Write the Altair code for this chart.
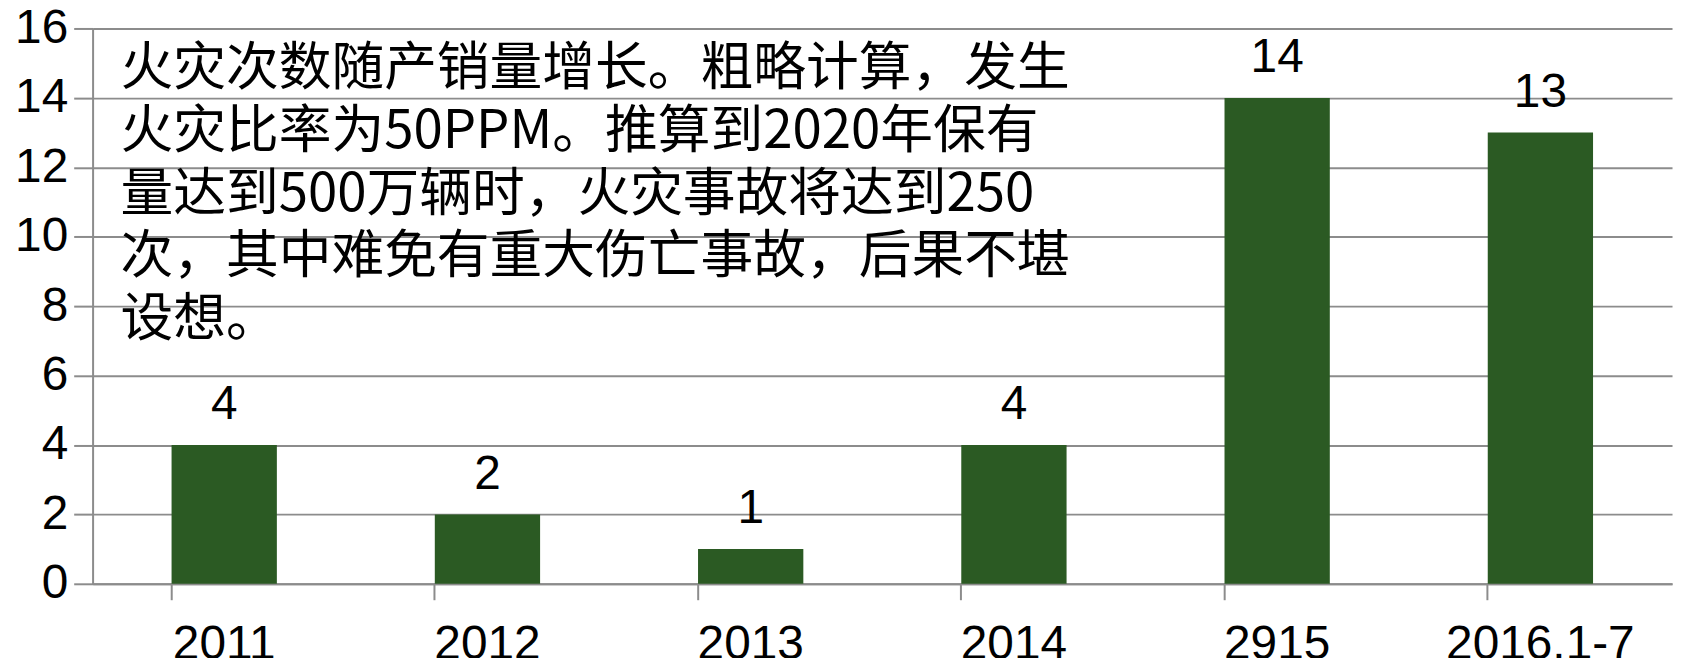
import altair as alt
import pandas as pd

categories = ["2011", "2012", "2013", "2014", "2915", "2016.1-7"]
values = [4, 2, 1, 4, 14, 13]
y_ticks = [0, 2, 4, 6, 8, 10, 12, 14, 16]
note_lines = [
    "火灾次数随产销量增长。粗略计算，发生",
    "火灾比率为50PPM。推算到2020年保有",
    "量达到500万辆时，火灾事故将达到250",
    "次，其中难免有重大伤亡事故，后果不堪",
    "设想。",
]

df = pd.DataFrame({"cat": categories, "val": values})
note_df = pd.DataFrame({"note": ["\n".join(note_lines)]})

GRID = "#8c8c8c"
BAR = "#2b5a23"
NUM_FONT = "Liberation Sans"

x = alt.X(
    "cat:N",
    sort=categories,
    title=None,
    scale=alt.Scale(paddingInner=0.6, paddingOuter=0.3),
    axis=alt.Axis(
        labelAngle=0,
        labelFont=NUM_FONT,
        labelFontSize=48,
        labelColor="#000000",
        labelPadding=21,
        labelLimit=0,
        tickSize=16,
        tickColor=GRID,
        tickWidth=2,
        bandPosition=0,
        domainColor=GRID,
        domainWidth=2,
        grid=False,
    ),
)
y = alt.Y(
    "val:Q",
    title=None,
    scale=alt.Scale(domain=[0, 16], nice=False),
    axis=alt.Axis(
        values=y_ticks,
        labelFont=NUM_FONT,
        labelFontSize=48,
        labelColor="#000000",
        labelPadding=6,
        tickSize=19,
        tickColor=GRID,
        tickWidth=2,
        domainColor=GRID,
        domainWidth=2,
        grid=True,
        gridColor=GRID,
        gridWidth=2,
    ),
)

bars = alt.Chart(df).mark_bar(color=BAR).encode(x=x, y=y)
labels = alt.Chart(df).mark_text(
    font=NUM_FONT, fontSize=48, color="#000000", baseline="bottom", dy=-16
).encode(x=alt.X("cat:N", sort=categories), y="val:Q", text="val:Q")

note = alt.Chart(note_df).mark_text(
    font="Noto Sans CJK SC",
    fontSize=53,
    color="#000000",
    align="left",
    baseline="top",
    lineBreak="\n",
    lineHeight=63,
).encode(x=alt.value(28), y=alt.value(15), text="note:N")

chart = (
    alt.layer(bars, labels, note)
    .properties(
        width=1587,
        height=558,
        autosize=alt.AutoSizeParams(type="none"),
        padding={"left": 85, "top": 19, "right": 3, "bottom": 73},
        background="#ffffff",
    )
    .configure_view(stroke=None)
)

chart.save("out.html", embed_options={"renderer": "svg", "actions": False})
